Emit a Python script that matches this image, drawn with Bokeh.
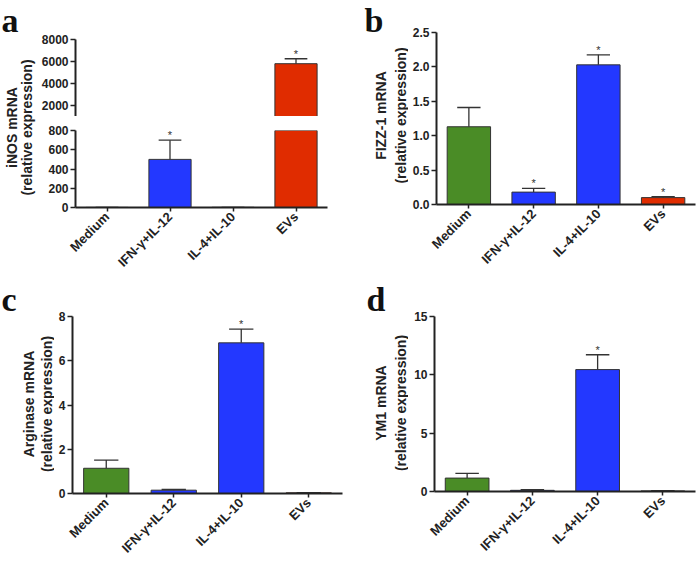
import math
from bokeh.plotting import figure
from bokeh.models import (Range1d, FactorRange, FixedTicker, NumeralTickFormatter,
                          Label, ColumnDataSource)
from bokeh.layouts import row, column
from bokeh.embed import file_html
from bokeh.resources import INLINE
from bokeh.core.properties import value

# ---------------- data ----------------
categories = ["Medium", "IFN-γ+IL-12", "IL-4+IL-10", "EVs"]
bar_colors = ["#4a8c26", "#2338ff", "#2338ff", "#e02c00"]

inos_mean = [1.0, 500, 2.0, 5800]
inos_sem = [0.0, 200, 0.0, 450]
inos_star = [False, True, False, True]

fizz_mean = [1.13, 0.18, 2.03, 0.10]
fizz_sem = [0.28, 0.055, 0.145, 0.015]
fizz_star = [False, True, True, True]

arg_mean = [1.14, 0.15, 6.81, 0.03]
arg_sem = [0.37, 0.03, 0.62, 0.01]
arg_star = [False, False, True, False]

ym1_mean = [1.15, 0.10, 10.45, 0.05]
ym1_sem = [0.40, 0.05, 1.27, 0.02]
ym1_star = [False, False, True, False]

inos_upper_ticks = [2000, 4000, 6000, 8000]
inos_lower_ticks = [0, 200, 400, 600, 800]
fizz_ticks = [0, 0.5, 1.0, 1.5, 2.0, 2.5]
arg_ticks = [0, 2, 4, 6, 8]
ym1_ticks = [0, 5, 10, 15]

panel_letters = ["a", "b", "c", "d"]
y_titles = ["iNOS mRNA", "FIZZ-1 mRNA", "Arginase mRNA", "YM1 mRNA"]
y_sub = "(relative expression)"

# ---------------- style ----------------
SANS = "Liberation Sans"
SERIF = "Liberation Serif"
INK = "#222222"
CAP = 0.18
BAR_W = 0.67
LETTER_PX = 34


def style_axis(ax):
    ax.axis_line_width = 2
    ax.axis_line_color = INK
    ax.major_tick_line_width = 1.5
    ax.major_tick_line_color = INK
    ax.major_tick_in = 0
    ax.major_tick_out = 5
    ax.minor_tick_line_color = None
    ax.major_label_text_font = SANS
    ax.major_label_text_font_style = "bold"
    ax.major_label_text_font_size = "12px"
    ax.major_label_text_color = INK
    ax.major_label_standoff = 2


def make_fig(w, h, bl, br, bt, bb, y0, y1, ticks, fmt, means, sems, stars, show_x=True):
    p = figure(width=w, height=h, x_range=FactorRange(*categories), y_range=Range1d(y0, y1),
               output_backend="svg", toolbar_location=None,
               min_border_left=bl, min_border_right=br, min_border_top=bt, min_border_bottom=bb,
               x_axis_location="below" if show_x else None)
    p.outline_line_color = None
    p.grid.visible = False
    p.background_fill_color = "white"
    p.border_fill_color = "white"
    yax = p.yaxis[0]
    yax.ticker = FixedTicker(ticks=ticks)
    yax.formatter = NumeralTickFormatter(format=fmt)
    style_axis(yax)
    if show_x:
        xax = p.xaxis[0]
        style_axis(xax)
        xax.major_label_orientation = math.pi / 4
        xax.major_label_text_font_size = "13px"
        xax.major_tick_out = 4
        xax.major_label_standoff = 3

    hi = [m + s for m, s in zip(means, sems)]
    src = ColumnDataSource(dict(cat=categories, mean=means, hi=hi, color=bar_colors,
                                cl=[(c, -CAP) for c in categories],
                                cr=[(c, CAP) for c in categories]))
    p.vbar(x="cat", top="mean", width=BAR_W, source=src, fill_color="color",
           line_color="#333333", line_width=1)
    p.segment(x0="cat", y0="mean", x1="cat", y1="hi", source=src, line_color="#333333", line_width=1.3)
    p.segment(x0="cl", y0="hi", x1="cr", y1="hi", source=src, line_color="#333333", line_width=1.3)
    sc = [c for c, s, v in zip(categories, stars, hi) if s and y0 <= v <= y1]
    sy = [v for v, s in zip(hi, stars) if s and y0 <= v <= y1]
    p.text(x=sc, y=sy, text=["*"] * len(sc), text_align="center", text_baseline="bottom",
           text_font=value(SANS), text_font_size="11px", text_color="#333333", y_offset=1)
    return p


def make_strip(w, h, letter, lx, letter_cy, line1, line2, x1, x2, yc):
    """Narrow blank plot (frame = whole canvas) holding the panel letter and the
    two-line y title. Vertical positions are given from the canvas top."""
    s = figure(width=w, height=h, x_range=Range1d(0, 1), y_range=Range1d(0, 1),
               output_backend="svg", toolbar_location=None,
               x_axis_location=None, y_axis_location=None,
               min_border_left=0, min_border_right=0, min_border_top=0, min_border_bottom=0)
    s.outline_line_color = None
    s.grid.visible = False
    s.border_fill_color = "white"
    s.background_fill_color = "white"
    s.add_layout(Label(x=lx, y=h - letter_cy, x_units="screen", y_units="screen",
                       text=letter, text_font=SERIF, text_font_style="bold",
                       text_font_size=f"{LETTER_PX}px",
                       text_color="#111111", text_baseline="middle", text_align="left"))
    for txt, xx in [(line1, x1), (line2, x2)]:
        s.add_layout(Label(x=xx, y=h - yc, x_units="screen", y_units="screen", text=txt,
                           angle=math.pi / 2, text_align="center", text_baseline="middle",
                           text_font=SANS, text_font_style="bold", text_font_size="14px",
                           text_color=INK))
    return column(s)


TOP_H = 278
BOT_H = 285

# ---------------- panel a (broken axis) ----------------
strip_a = make_strip(38, TOP_H, panel_letters[0], 1, 19.5, y_titles[0], y_sub, 11, 26.5, 127)
a_up = make_fig(312, 116, 37, 23, 39, 0, 1000, 8000, inos_upper_ticks, "0",
                inos_mean, inos_sem, inos_star, show_x=False)
a_lo = make_fig(312, 162, 37, 23, 14, 71, 0, 800, inos_lower_ticks, "0",
                inos_mean, inos_sem, inos_star, show_x=True)

# ---------------- panel b ----------------
strip_b = make_strip(58, TOP_H, panel_letters[1], 14, 19.5, y_titles[1], y_sub, 30, 50, 115)
pb = make_fig(289, TOP_H, 28, 2, 32, 74, 0, 2.5, fizz_ticks, "0.0",
              fizz_mean, fizz_sem, fizz_star)

# ---------------- panel c ----------------
strip_c = make_strip(54, BOT_H, panel_letters[2], 1, 21, y_titles[2], y_sub, 28.8, 46.7, 125.5)
pc = make_fig(296, BOT_H, 18, 8, 38, 68, 0, 8, arg_ticks, "0",
              arg_mean, arg_sem, arg_star)

# ---------------- panel d ----------------
strip_d = make_strip(58, BOT_H, panel_letters[3], 16, 21, y_titles[3], y_sub, 30, 50, 124.5)
pd_ = make_fig(289, BOT_H, 26, 2, 38, 72, 0, 15, ym1_ticks, "0",
               ym1_mean, ym1_sem, ym1_star)

left = column(row(strip_a, column(a_up, a_lo)), row(strip_c, pc))
right = column(row(strip_b, pb), row(strip_d, pd_))
layout = row(left, right)

open("out.html", "w").write(file_html(layout, INLINE))
